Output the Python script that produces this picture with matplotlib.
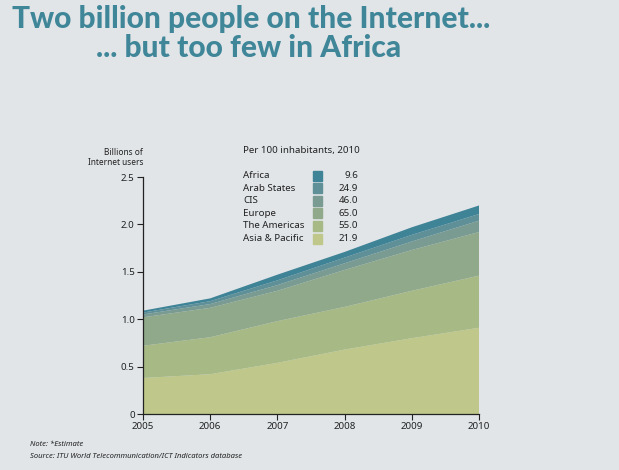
import numpy as np
import matplotlib.pyplot as plt

years = [2005, 2006, 2007, 2008, 2009, 2010]
regions = ['Africa', 'Arab States', 'CIS', 'Europe', 'The Americas', 'Asia & Pacific']
per100 = ['9.6', '24.9', '46.0', '65.0', '55.0', '21.9']

# billions of users per region
asia = [0.38, 0.42, 0.54, 0.68, 0.80, 0.91]
americas = [0.34, 0.39, 0.44, 0.45, 0.50, 0.55]
europe = [0.30, 0.31, 0.32, 0.39, 0.43, 0.46]
cis = [0.03, 0.04, 0.06, 0.07, 0.09, 0.12]
arab = [0.02, 0.03, 0.05, 0.06, 0.07, 0.07]
africa = [0.02, 0.03, 0.06, 0.06, 0.08, 0.09]

colors = {
    'Africa': '#3f8397',
    'Arab States': '#5f8f97',
    'CIS': '#7a9b91',
    'Europe': '#90a98b',
    'The Americas': '#a7ba85',
    'Asia & Pacific': '#c0c78a',
}

bg = '#e1e5e8'
title_color = '#3f8699'
font = 'Noto Sans'

fig = plt.figure(figsize=(6.19, 4.70), dpi=100, facecolor=bg)
ax = fig.add_axes([0.231, 0.1191, 0.543, 0.5043])
ax.set_facecolor(bg)

ax.stackplot(years, asia, americas, europe, cis, arab, africa,
             colors=[colors['Asia & Pacific'], colors['The Americas'], colors['Europe'],
                     colors['CIS'], colors['Arab States'], colors['Africa']],
             linewidth=0)

ax.set_xlim(2005, 2010)
ax.set_ylim(0, 2.5)
ax.set_xticks(years)
ax.set_yticks([0, 0.5, 1.0, 1.5, 2.0, 2.5])
ax.set_yticklabels(['0', '0.5', '1.0', '1.5', '2.0', '2.5'])
for s in ['top', 'right']:
    ax.spines[s].set_visible(False)
for s in ['left', 'bottom']:
    ax.spines[s].set_linewidth(0.9)
    ax.spines[s].set_color('#222222')
ax.tick_params(direction='out', length=4, width=0.8, labelsize=7, pad=2, colors='#222222')
for lbl in ax.get_xticklabels() + ax.get_yticklabels():
    lbl.set_family(font)

# axis caption
fig.text(143 / 619, 1 - 148 / 470, 'Billions of\nInternet users', ha='right', va='top',
         fontsize=6, family=font, linespacing=1.1, color='#222222')

# custom legend
fig.text(243 / 619, 1 - 150 / 470, 'Per 100 inhabitants, 2010', ha='left', va='center',
         fontsize=7, family=font, color='#222222')
for i, (name, val) in enumerate(zip(regions, per100)):
    y = 1 - (175.5 + i * 12.6) / 470
    fig.text(243 / 619, y, name, ha='left', va='center', fontsize=7, family=font, color='#222222')
    fig.text(358 / 619, y, val, ha='right', va='center', fontsize=7, family=font, color='#222222')
    fig.patches.append(plt.Rectangle((313 / 619, y - 5 / 470), 9 / 619, 10 / 470,
                                     transform=fig.transFigure, color=colors[name]))

# title
fig.text(251 / 619, 1 - 19 / 470, 'Two billion people on the Internet...', ha='center', va='center',
         fontsize=21.5, family='Lato', fontweight='black', color=title_color)
fig.text(249 / 619, 1 - 48 / 470, '... but too few in Africa', ha='center', va='center',
         fontsize=21.5, family='Lato', fontweight='black', color=title_color)

# notes
fig.text(30 / 619, 1 - 445 / 470, 'Note: *Estimate', ha='left', va='center',
         fontsize=5.5, style='italic', family=font, color='#222222')
fig.text(30 / 619, 1 - 456 / 470, 'Source: ITU World Telecommunication/ICT Indicators database',
         ha='left', va='center', fontsize=5.5, style='italic', family=font, color='#222222')

fig.savefig('out.png', dpi=100, facecolor=bg)
